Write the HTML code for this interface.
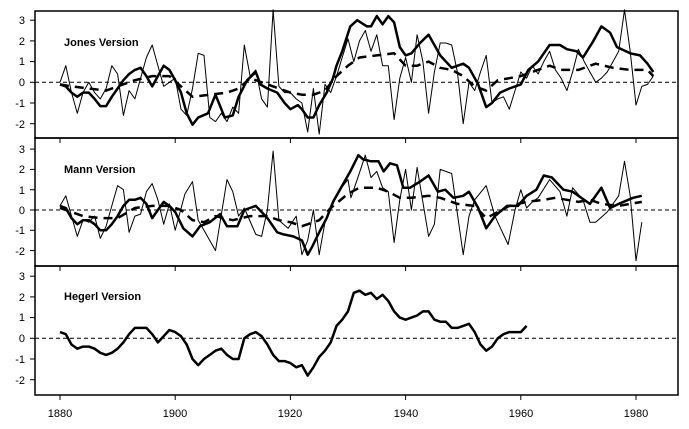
<!DOCTYPE html>
<html><head><meta charset="utf-8"><style>
html,body{margin:0;padding:0;background:#fff;}
svg{display:block;font-family:"Liberation Sans",Arial,sans-serif;}
</style></head><body>
<svg id="s" width="689" height="429" xmlns="http://www.w3.org/2000/svg">
<rect x="0" y="0" width="689" height="429" fill="#fff"/>
<g font-size="11" text-anchor="end" fill="#000">
<text x="25" y="24">3</text><text x="25" y="45">2</text><text x="25" y="65">1</text><text x="25" y="86">0</text><text x="25" y="107">-1</text><text x="25" y="128">-2</text>
<text x="25" y="153">3</text><text x="25" y="173">2</text><text x="25" y="194">1</text><text x="25" y="214">0</text><text x="25" y="234">-1</text><text x="25" y="255">-2</text>
<text x="25" y="280">3</text><text x="25" y="301">2</text><text x="25" y="321">1</text><text x="25" y="342">0</text><text x="25" y="363">-1</text><text x="25" y="384">-2</text>
</g>
<g font-size="11" text-anchor="middle">
<text x="60" y="417">1880</text><text x="175" y="417">1900</text><text x="290" y="417">1920</text><text x="406" y="417">1940</text><text x="521" y="417">1960</text><text x="636" y="417">1980</text>
</g>
<g font-size="11" font-weight="bold">
<text x="64" y="46">Jones Version</text>
<text x="64" y="173">Mann Version</text>
<text x="64" y="300">Hegerl Version</text>
</g>
<g id="plots"></g>
</svg>
<script>
var X=function(y){return 60+(y-1880)*5.76;};
var P=[{t:11,b:138,z:82.3,u:20.7},{t:138,b:266,z:210,u:20.3},{t:266,b:395,z:338.3,u:20.7}];
function pts(arr,p){var s=[];for(var i=0;i<arr.length;i+=2){s.push(X(arr[i]).toFixed(1)+","+(p.z-arr[i+1]*p.u).toFixed(1));}return s.join(" ");}
function ann(start,vals){var a=[];for(var i=0;i<vals.length;i++){a.push(start+i,vals[i]);}return a;}
var jThin=ann(1880,[0,0.8,-0.5,-1.5,-0.5,0,-0.5,-0.8,-0.3,0.8,0.4,-1.6,-0.4,-0.8,0.2,1.2,1.8,0.8,-0.2,0,0.2,-1.3,-1.6,-0.3,1.4,1.3,-1.7,-1.9,-1.5,-1.9,-1.2,-1.5,1.8,0.3,0.6,-0.8,-1.2,3.5,-0.2,-0.5,-0.5,-0.8,-1.0,-2.4,-0.3,-2.5,-0.1,-0.5,0.3,1.2,2.1,1.0,2.0,2.5,1.5,2.3,0.8,0.8,-1.8,0.2,1.2,0.0,2.3,1.0,-1.5,0.5,1.9,1.9,1.8,0.5,-2.0,0,-0.4,0.5,1.3,-1.0,-0.8,-0.7,-1.3,-0.4,0.5,0.2,0.8,0.4,1.0,1.5,0.6,0.2,-0.4,0.5,1.6,1.0,0.5,0,0.2,0.5,1.0,1.5,3.5,1.5,-1.1,-0.2,-0.1,0.3]);
var jThick=[1880,-0.1,1881,-0.2,1882,-0.5,1883,-0.7,1884,-0.5,1885,-0.5,1886,-0.8,1887,-1.15,1888,-1.15,1889,-0.7,1890,-0.3,1891,0.1,1892,0.4,1893,0.6,1894,0.7,1895,0.3,1896,-0.2,1897,0.3,1898,0.8,1899,0.6,1900,0.1,1901,-0.5,1902,-1.5,1903,-2.05,1904,-1.7,1905.7,-1.5,1907,-0.6,1908.6,-1.7,1910,-1.6,1911,-0.7,1912.5,0.1,1914,0.5,1914.8,-0.1,1916,-0.3,1917.7,-0.5,1919,-1.0,1920,-1.3,1921.3,-1.1,1922,-1.3,1923,-1.7,1924,-1.7,1925,-1.1,1926.3,-0.5,1927.4,0.2,1928,0.8,1929,1.5,1930.4,2.7,1931.6,3.0,1933.3,2.7,1934,2.7,1935,3.2,1936,2.8,1937,3.2,1938,2.9,1939,1.7,1940,1.3,1941,1.4,1942.5,1.9,1944,2.3,1946,1.3,1948,0.7,1950,0.9,1951,0.7,1952.6,-0.1,1954,-1.2,1955,-1.0,1956.4,-0.5,1958,-0.3,1960,-0.1,1961.3,0.6,1963,1.0,1965,1.8,1966.8,1.8,1968,1.6,1969.7,1.5,1970.8,1.2,1972.6,2.0,1974,2.7,1975.5,2.4,1976.7,1.7,1979,1.4,1980.7,1.3,1982,0.9,1983,0.5];
var jDash=[1880,-0.1,1882,-0.2,1885,-0.3,1888,-0.4,1890,-0.2,1893,0.1,1896,0.3,1899,0.3,1901,-0.2,1903,-0.7,1906,-0.6,1909,-0.5,1911,-0.3,1913,0.2,1915,0.0,1917,-0.2,1920,-0.5,1922,-0.6,1924,-0.6,1926,-0.4,1928,0.3,1930,0.8,1932,1.2,1935,1.3,1938,1.4,1940,0.8,1942,0.8,1944,1.0,1946,0.7,1948,0.6,1950,0.3,1952,-0.2,1954,-0.4,1956,0.1,1958,0.2,1960,0.3,1962,0.5,1965,0.8,1967,0.6,1970,0.6,1973,0.9,1976,0.7,1979,0.6,1982,0.6,1983,0.3];
var mThin=[1880,0.2,1881,0.7,1882,-0.3,1883,-1.3,1884,-0.5,1885,-0.6,1886,-0.3,1887,-1.4,1888,-0.8,1889,0.2,1890,1.2,1891,1.0,1892,-1.1,1893,-0.3,1894,-0.2,1895,0.9,1896,1.3,1897,0.5,1898,-0.7,1899,0.3,1900,-1.0,1901.7,0.8,1903,1.4,1904,-0.5,1905,-1.0,1907,-2.0,1909,1.5,1910,0.9,1911,-0.3,1912,0.1,1914,-1.2,1915,-1.3,1916,0.0,1917,2.9,1918,-0.5,1919.6,-0.9,1921,-0.3,1922,-2.2,1923,-1.5,1924,0.0,1925,-2.2,1926,-0.6,1927.4,0.3,1928.6,1.0,1930,1.5,1930.5,0.6,1931.6,1.5,1933,2.7,1934,1.6,1935,1.9,1936,1.1,1937,0.9,1938,-1.6,1939,0.5,1940,2.0,1941,0.0,1942,2.1,1944,-1.3,1945,-0.7,1946,2.0,1948,1.8,1950,-2.2,1951,-0.3,1952,0.5,1954,1.2,1955.5,-0.3,1957.8,-1.7,1959,0.0,1960,1.0,1961,0.1,1962,0.4,1963,0.6,1965,1.5,1966.8,0.9,1968,-0.3,1969,1.1,1970.8,0.5,1972,-0.6,1973,-0.6,1975,-0.1,1977,0.7,1978,2.4,1979,0.7,1980,-2.5,1981,-0.6];
var mThick=[1880,0.2,1881,0.1,1882,-0.4,1883,-0.7,1884,-0.5,1885,-0.5,1886,-0.7,1887,-1.0,1888,-1.0,1889,-0.7,1890,-0.3,1891,0.2,1892,0.5,1893,0.5,1894,0.6,1895,0.3,1896,-0.4,1897,0.0,1898,0.4,1899,0.2,1900,-0.1,1901.4,-0.9,1903,-1.3,1904.3,-0.8,1906,-0.6,1907.8,-0.2,1909,-0.8,1910.8,-0.8,1912,0.0,1914,0.2,1916,-0.4,1917.7,-1.1,1918.8,-1.2,1920.5,-1.3,1922,-1.5,1923,-2.2,1923.8,-1.8,1925,-1.1,1926.3,-0.4,1927.4,0.4,1928.6,1.0,1930.4,1.9,1931.8,2.7,1932.6,2.5,1934,2.4,1935.3,2.4,1936.2,1.9,1937.3,2.3,1938.5,2.2,1939.6,1.1,1940.8,1.1,1942.5,1.4,1944,1.7,1945.6,0.9,1946.9,1.0,1948.3,0.6,1950,0.7,1951,0.9,1952.6,0.1,1954,-0.9,1955.5,-0.3,1957.6,0.2,1959.5,0.2,1961,0.7,1962.7,1.0,1964,1.7,1965.4,1.6,1967.4,1.0,1969,0.9,1972,0.3,1974,1.1,1975.5,0.1,1977,0.3,1979.5,0.6,1981,0.7];
var mDash=[1880,0.1,1884,-0.3,1887,-0.4,1890,-0.4,1893,0.1,1896,0.2,1899,0.2,1901,0,1903,-0.5,1905,-0.6,1907,-0.3,1910,-0.5,1913,-0.3,1916,-0.3,1918,-0.5,1920,-0.6,1922,-0.8,1925,-0.5,1927,0.1,1930,0.8,1932,1.1,1935,1.1,1937,0.9,1939,0.6,1941,0.6,1944,0.7,1946,0.6,1949,0.3,1952,0.2,1954,-0.4,1956,-0.1,1958,0.2,1961,0.4,1964,0.5,1966,0.6,1968,0.5,1970,0.4,1972,0.5,1974,0.3,1977,0.2,1979,0.3,1981,0.4];
var hThick=ann(1880,[0.3,0.2,-0.3,-0.5,-0.4,-0.4,-0.5,-0.7,-0.8,-0.7,-0.5,-0.2,0.2,0.5,0.5,0.5,0.2,-0.2,0.1,0.4,0.3,0.1,-0.3,-1.0,-1.3,-1.0,-0.8,-0.6,-0.5,-0.8,-1.0,-1.0,0.0,0.2,0.3,0.1,-0.3,-0.8,-1.1,-1.1,-1.2,-1.4,-1.3,-1.8,-1.4,-0.9,-0.6,-0.2,0.6,0.9,1.3,2.2,2.3,2.1,2.2,1.9,2.1,1.8,1.3,1.0,0.9,1.0,1.1,1.3,1.3,0.9,0.8,0.8,0.5,0.5,0.6,0.7,0.3,-0.3,-0.6,-0.4,0.0,0.2,0.3,0.3,0.3,0.6]);
var out="";
function pl(a,p,w,d){out+='<polyline fill="none" stroke="#000" stroke-width="'+w+'" stroke-linejoin="round" '+(d?'stroke-dasharray="'+d+'" ':'')+'points="'+pts(a,p)+'"/>';}
P.forEach(function(p,i){
 out+='<line x1="35" x2="678" y1="'+p.z+'" y2="'+p.z+'" stroke="#000" stroke-width="1" stroke-dasharray="4,3"/>';
 for(var v=-2;v<=3;v++){var y=p.z-v*p.u;out+='<line x1="30" x2="35" y1="'+y+'" y2="'+y+'" stroke="#000"/>';}
 for(var yr=1880;yr<=1980;yr+=20){var x=X(yr);
  if(i>0)out+='<line x1="'+x+'" x2="'+x+'" y1="'+p.t+'" y2="'+(p.t+5)+'" stroke="#000"/>';
  if(i==2)out+='<line x1="'+x+'" x2="'+x+'" y1="'+p.b+'" y2="'+(p.b+5)+'" stroke="#000"/>';}
});
pl(jThin,P[0],1);pl(jThick,P[0],2.5);pl(jDash,P[0],2.5,"9,6");
pl(mThin,P[1],1);pl(mThick,P[1],2.5);pl(mDash,P[1],2.5,"9,6");
pl(hThick,P[2],2.5);
out+='<defs><clipPath id="c"><rect x="35" y="11" width="643" height="384"/></clipPath></defs>';
P.forEach(function(p){out+='<rect x="35" y="'+p.t+'" width="643" height="'+(p.b-p.t)+'" fill="none" stroke="#000" stroke-width="1.5"/>';});
document.getElementById("plots").innerHTML=out;
</script>
</body></html>
